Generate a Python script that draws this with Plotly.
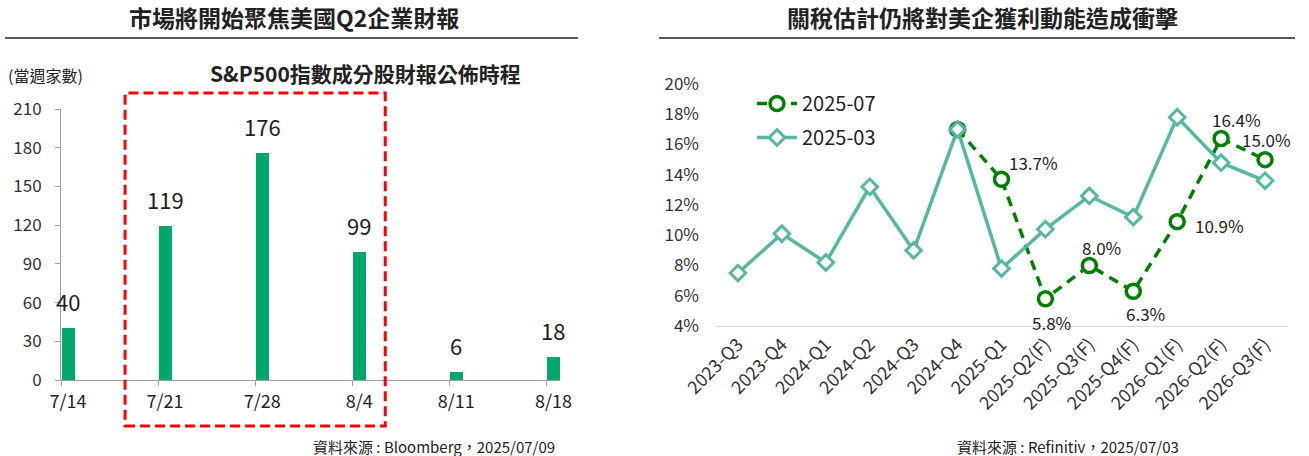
import plotly.graph_objects as go

W, H = 1309, 456
FONT = "Noto Sans CJK TC"
TXT = "#222222"

# left chart data
weeks = ["7/14", "7/21", "7/28", "8/4", "8/11", "8/18"]
reports = [40, 119, 176, 99, 6, 18]
highlight = ["7/21", "7/28", "8/4"]

# right chart data
quarters = ["2023-Q3", "2023-Q4", "2024-Q1", "2024-Q2", "2024-Q3", "2024-Q4", "2025-Q1",
            "2025-Q2(F)", "2025-Q3(F)", "2025-Q4(F)", "2026-Q1(F)", "2026-Q2(F)", "2026-Q3(F)"]
est_2025_03 = [7.5, 10.1, 8.2, 13.2, 9.0, 17.0, 7.8, 10.4, 12.6, 11.2, 17.8, 14.8, 13.6]
est_2025_07 = [None, None, None, None, None, 17.0, 13.7, 5.8, 8.0, 6.3, 10.9, 16.4, 15.0]

# label offsets (px) for the 2025-07 points that carry a value label
label_shift = {
    "2025-Q1": (32, 17), "2025-Q2(F)": (6, -24), "2025-Q3(F)": (12, 18),
    "2025-Q4(F)": (12, -22), "2026-Q1(F)": (42, -4), "2026-Q2(F)": (15, 19),
    "2026-Q3(F)": (1, 20),
}


def px_x(p):
    return p / W


def px_y(p):
    return 1 - p / H


fig = go.Figure()

fig.add_trace(go.Bar(
    x=weeks, y=reports, marker_color="#00A86B", offset=0.01, width=0.134,
    showlegend=False, xaxis="x", yaxis="y", hoverinfo="skip",
))

fig.add_trace(go.Scatter(
    x=quarters, y=est_2025_07, name="2025-07", mode="lines+markers",
    line=dict(color="#008000", width=3.5, dash="10px,7px"),
    marker=dict(symbol="circle", size=14, color="white", line=dict(color="#008000", width=3.5)),
    xaxis="x2", yaxis="y2", legendrank=1, legendgroup="a",
))
fig.add_trace(go.Scatter(
    x=quarters, y=est_2025_03, name="2025-03", mode="lines+markers",
    line=dict(color="#55B8A0", width=3.5),
    marker=dict(symbol="diamond", size=12, color="white", line=dict(color="#55B8A0", width=3)),
    xaxis="x2", yaxis="y2", legendrank=2, legendgroup="b",
))

ann = []
for wk, v in zip(weeks, reports):
    ann.append(dict(x=wk, y=v, xref="x", yref="y", text=str(v), showarrow=False,
                    xshift=7, yshift=9, yanchor="bottom",
                    font=dict(family=FONT, size=22, color=TXT)))

for q, v in zip(quarters, est_2025_07):
    if q in label_shift and v is not None:
        dx, dy = label_shift[q]
        ann.append(dict(x=q, y=v, xref="x2", yref="y2", text=f"{v:.1f}%", showarrow=False,
                        xshift=dx, yshift=dy, xanchor="center", yanchor="middle",
                        font=dict(family=FONT, size=17, color=TXT)))

titles = [
    ("市場將開始聚焦美國Q2企業財報", 294, 17, 23, "center", "bold"),
    ("關稅估計仍將對美企獲利動能造成衝擊", 982, 17, 23, "center", "bold"),
    ("S&P500指數成分股財報公佈時程", 366, 73, 21, "center", "bold"),
    ("(當週家數)", 6, 75, 16, "left", "normal"),
    ("資料來源 : Bloomberg，2025/07/09", 557, 446, 15, "right", "normal"),
    ("資料來源 : Refinitiv，2025/07/03", 1068, 446, 15, "center", "normal"),
]
for t, x, y, s, xa, wt in titles:
    ann.append(dict(x=px_x(x), y=px_y(y), xref="paper", yref="paper", text=t, showarrow=False,
                    xanchor=xa, yanchor="middle",
                    font=dict(family=FONT, size=s, color=TXT, weight=wt)))

i0 = weeks.index(highlight[0])
i1 = weeks.index(highlight[-1])
shapes = [
    dict(type="line", xref="paper", yref="paper", x0=px_x(5), x1=px_x(578),
         y0=px_y(38), y1=px_y(38), line=dict(color="#222222", width=1.5)),
    dict(type="line", xref="paper", yref="paper", x0=px_x(659), x1=px_x(1295),
         y0=px_y(38), y1=px_y(38), line=dict(color="#222222", width=1.5)),
    dict(type="rect", xref="x", yref="paper", x0=i0 - 0.34, x1=i1 + 0.34,
         y0=px_y(426), y1=px_y(93), line=dict(color="#FF0000", width=3, dash="10px,5px")),
]

axis_font = dict(family=FONT, size=17, color="#333333")

fig.update_layout(
    template="none",
    width=W, height=H, margin=dict(l=0, r=0, t=0, b=0, pad=0, autoexpand=False),
    paper_bgcolor="white", plot_bgcolor="white",
    font=dict(family=FONT, color=TXT),
    annotations=ann, shapes=shapes, bargap=0,
    xaxis=dict(domain=[px_x(61), px_x(560)], type="category", categoryorder="array",
               categoryarray=weeks, range=[0, 5.14], showline=True, linecolor="#A0A0A0",
               ticks="outside", ticklen=5, tickcolor="#A0A0A0", ticklabelshift=7,
               tickfont=dict(family=FONT, size=18, color=TXT), showgrid=False,
               automargin=False, zeroline=False),
    yaxis=dict(domain=[px_y(380), px_y(109)], range=[0, 210], dtick=30, showline=True,
               linecolor="#A0A0A0", ticks="outside", ticklen=5, tickcolor="#A0A0A0",
               ticklabelstandoff=10, tickfont=axis_font, showgrid=False, zeroline=False,
               automargin=False),
    xaxis2=dict(domain=[px_x(716), px_x(1287)], type="category", categoryorder="array",
                categoryarray=quarters, range=[-0.5, 12.5], anchor="y2", showline=True,
                linecolor="#D9D9D9", ticks="", tickangle=-45,
                tickfont=dict(family=FONT, size=18, color="#333333"), showgrid=False,
                automargin=False, zeroline=False),
    yaxis2=dict(domain=[px_y(326), px_y(84)], range=[4, 20], dtick=2, ticksuffix="%",
                anchor="x2", showline=False, ticks="", ticklabelstandoff=16,
                tickfont=axis_font, showgrid=False, zeroline=False, automargin=False),
    showlegend=True,
    legend=dict(x=px_x(752), y=px_y(84), xanchor="left", yanchor="top",
                font=dict(family=FONT, size=20, color=TXT), bgcolor="rgba(0,0,0,0)",
                borderwidth=0, itemwidth=40, tracegroupgap=5, traceorder="grouped"),
)

# the page body has a default 8px margin; drop it so the figure sits at the window corner
fig.write_html("out.html", config={"displayModeBar": False},
               post_script="document.body.style.margin='0';")
